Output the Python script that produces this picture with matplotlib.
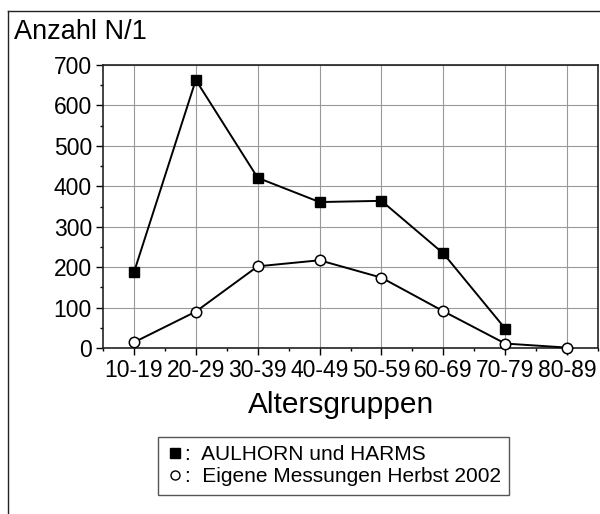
import matplotlib
matplotlib.use("Agg")
import matplotlib.pyplot as plt
from matplotlib.lines import Line2D
from matplotlib.ticker import MultipleLocator

plt.rcParams["font.family"] = ["Liberation Sans", "DejaVu Sans"]

# age groups and counts
groups = ["10-19", "20-29", "30-39", "40-49", "50-59", "60-69", "70-79", "80-89"]
aulhorn = [187, 663, 421, 361, 364, 234, 48]          # no value for 80-89
eigene = [14, 90, 202, 217, 174, 91, 11, 1]

yticks = [0, 100, 200, 300, 400, 500, 600, 700]

W, H = 600, 514
fig = plt.figure(figsize=(W / 100, H / 100), dpi=100)
ax = fig.add_axes([103 / W, 1 - 348 / H, (598 - 103) / W, (348 - 65) / H])

xs = list(range(1, len(groups) + 1))
ax.plot(xs[:len(aulhorn)], aulhorn, color="black", lw=1.4, marker="s",
        ms=7, mfc="black", mec="black", zorder=3)
ax.plot(xs, eigene, color="black", lw=1.4, marker="o",
        ms=7.5, mfc="white", mec="black", mew=1.1, zorder=3, clip_on=False)

ax.set_xlim(0.5, 8.5)
ax.set_ylim(0, 700)
ax.set_xticks(xs)
ax.set_xticklabels(groups)
ax.set_yticks(yticks)
ax.xaxis.set_minor_locator(MultipleLocator(0.5))
ax.yaxis.set_minor_locator(MultipleLocator(50))
ax.tick_params(which="major", direction="out", length=5, width=1.0, labelsize=16.5, pad=3)
ax.tick_params(which="minor", direction="out", length=2.5, width=1.0)
ax.tick_params(axis="x", which="major", pad=3)
ax.grid(True, which="major", color="#999999", lw=0.8)
ax.set_axisbelow(True)
for s in ax.spines.values():
    s.set_linewidth(1.2)
    s.set_color("#222222")

fig.text(14 / W, 1 - 39 / H, "Anzahl N/1", fontsize=19.5, va="baseline", ha="left")
fig.text(341 / W, 1 - 413 / H, "Altersgruppen", fontsize=21.5, va="baseline", ha="center")

handles = [
    Line2D([], [], ls="none", marker="s", ms=6.5, mfc="black", mec="black"),
    Line2D([], [], ls="none", marker="o", ms=6.5, mfc="white", mec="black", mew=1),
]
labels = [":  AULHORN und HARMS", ":  Eigene Messungen Herbst 2002"]
leg = ax.legend(handles, labels, loc="upper left",
                bbox_to_anchor=(158 / W, 1 - 437 / H), bbox_transform=fig.transFigure,
                borderaxespad=0, fontsize=15, handlelength=0.8, handletextpad=0.1,
                labelspacing=0.15, borderpad=0.4, fancybox=False, framealpha=1)
leg.get_frame().set_edgecolor("#555555")
leg.get_frame().set_linewidth(1.0)

# outer frame lines (top and left)
fig.add_artist(Line2D([8 / W, 1], [1 - 11 / H, 1 - 11 / H], color="#222222", lw=1.0,
                      transform=fig.transFigure))
fig.add_artist(Line2D([8 / W, 8 / W], [0, 1 - 11 / H], color="#222222", lw=1.0,
                      transform=fig.transFigure))

fig.savefig("out.png", dpi=100)
